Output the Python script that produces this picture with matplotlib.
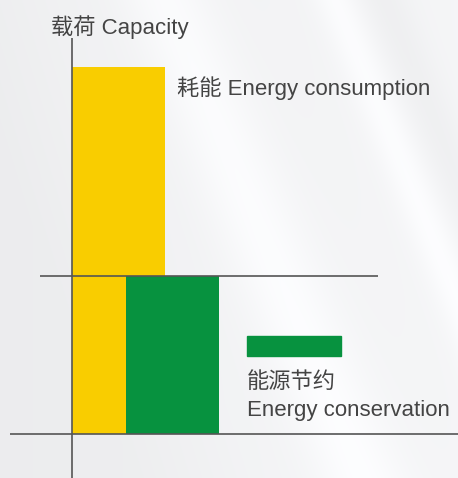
import matplotlib.pyplot as plt
import numpy as np
from matplotlib.patches import Rectangle

# chart data: capacity needed with plain use vs. with energy saving
axis_title = "载荷 Capacity"
use_label = "耗能 Energy consumption"
save_label_cn = "能源节约"
save_label_en = "Energy conservation"
capacity = [100, 43]          # yellow bar, green bar
bar_left = [0, 0.58]
bar_colors = ["#F9CD00", "#07923F"]

text_color = "#444444"
line_color = "#555555"

plt.rcParams['font.family'] = ['Liberation Sans', 'Noto Sans CJK SC']

fig = plt.figure(figsize=(4.58, 4.78), dpi=100)
ax = fig.add_axes([0, 0, 1, 1])
x0, x1 = -0.774, 4.15
y0, y1 = -12.0, 118.3
ax.set_xlim(x0, x1)
ax.set_ylim(y0, y1)
ax.axis('off')

# soft gray background with diagonal light streaks
h, w = 478, 458
yy, xx = np.mgrid[0:h, 0:w]
u = xx - 0.41 * yy
bg = 0.945 + 0.02 * (xx / w)
bg += 0.035 * np.exp(-((u - 165) / 45.0) ** 2)
bg += 0.03 * np.exp(-((u - 335) / 22.0) ** 2)
bg -= 0.02 * np.exp(-((u - 385) / 25.0) ** 2)
bg -= 0.015 * np.clip((60 - u) / 120.0, 0, 1)
bg = np.clip(bg, 0, 1)
rgb = np.dstack([bg - 0.004, bg - 0.002, bg + 0.004]).clip(0, 1)
ax.imshow(rgb, extent=(x0, x1, y0, y1), aspect='auto', zorder=0)

# bars
ax.bar(bar_left, capacity, width=1.0, align='edge', color=bar_colors, zorder=2)

# axes lines
ax.vlines(0, y0, 107.9, color=line_color, lw=1.2, zorder=3)
ax.hlines(0, -0.667, x1, color=line_color, lw=1.2, zorder=3)
ax.hlines(capacity[1], -0.344, 3.29, color=line_color, lw=1.2, zorder=3)

# legend key for the saving
ax.add_patch(Rectangle((1.88, 21.25), 1.01, 5.45, color=bar_colors[1], zorder=2))

fs = 16
ax.text(-0.226, 110.9, axis_title, fontsize=fs, color=text_color, va='center')
ax.text(1.13, 94.3, use_label, fontsize=fs, color=text_color, va='center')
ax.text(1.88, 13.9, save_label_cn, fontsize=fs, color=text_color, va='center')
ax.text(1.88, 6.5, save_label_en, fontsize=fs, color=text_color, va='center')

fig.savefig("out.png", dpi=100)
